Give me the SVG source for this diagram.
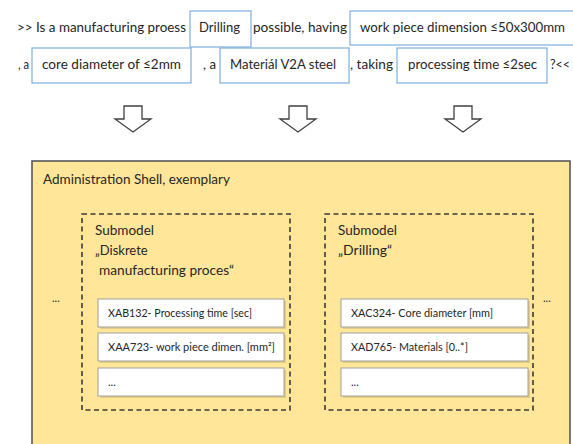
<svg xmlns="http://www.w3.org/2000/svg" width="573" height="444" viewBox="0 0 573 444">
<style>
text{font-family:Lato,"Liberation Sans","DejaVu Sans",sans-serif;fill:#262626}
.q{font-size:13px}
.qb{fill:#fff;stroke:#7eaedc;stroke-width:1.2}
.shell{fill:#ffe699;stroke:#595959;stroke-width:1.6}
.sub{fill:none;stroke:#3a3a3a;stroke-width:1.6;stroke-dasharray:5 3.5}
.item{fill:#fff;stroke:#a0a0a0;stroke-width:1}
.shadow{fill:#c9b46e;opacity:0.5}
.it{font-size:11px}
.lbl{font-size:13px}
.arr{fill:#fff;stroke:#404040;stroke-width:1.3;stroke-linejoin:miter}
</style>
<rect width="573" height="444" fill="#fff"/>

<g id="question">
  <text class="q" x="17" y="32" textLength="169" lengthAdjust="spacingAndGlyphs">&gt;&gt; Is a manufacturing proess</text>
  <g id="q-drilling"><rect class="qb" x="190" y="11" width="61" height="36"/><text class="q" x="199" y="32" textLength="41" lengthAdjust="spacingAndGlyphs">Drilling</text></g>
  <text class="q" x="253" y="32" textLength="94" lengthAdjust="spacingAndGlyphs">possible, having</text>
  <g id="q-dimension"><rect class="qb" x="350" y="11" width="226" height="34"/><text class="q" x="360" y="32" textLength="205" lengthAdjust="spacingAndGlyphs">work piece dimension ≤50x300mm</text></g>
  <text class="q" x="18" y="69" textLength="11" lengthAdjust="spacingAndGlyphs">, a</text>
  <g id="q-core"><rect class="qb" x="32" y="48" width="159" height="35"/><text class="q" x="42" y="69" textLength="139" lengthAdjust="spacingAndGlyphs">core diameter of ≤2mm</text></g>
  <text class="q" x="203" y="69" textLength="13" lengthAdjust="spacingAndGlyphs">, a</text>
  <g id="q-material"><rect class="qb" x="220" y="48" width="129" height="35"/><text class="q" x="230" y="69" textLength="106" lengthAdjust="spacingAndGlyphs">Materiál V2A steel</text></g>
  <text class="q" x="350" y="69" textLength="43" lengthAdjust="spacingAndGlyphs">, taking</text>
  <g id="q-time"><rect class="qb" x="397" y="48" width="150" height="35"/><text class="q" x="408" y="69" textLength="129" lengthAdjust="spacingAndGlyphs">processing time ≤2sec</text></g>
  <text class="q" x="550" y="69" textLength="20" lengthAdjust="spacingAndGlyphs">?&lt;&lt;</text>
</g>

<g id="connectors">
  <polygon class="arr" points="124,106 142,106 142,119 151,119 133,132 115,119 124,119"/>
  <polygon class="arr" points="289,106 307,106 307,119 316,119 298,132 280,119 289,119"/>
  <polygon class="arr" points="454,106 472,106 472,119 481,119 463,132 445,119 454,119"/>
</g>

<g id="shell">
  <rect class="shell" x="32" y="161" width="538" height="300"/>
  <text class="lbl" x="43" y="184" textLength="187" lengthAdjust="spacingAndGlyphs">Administration Shell, exemplary</text>
  <text class="it" x="52" y="302">...</text>
  <text class="it" x="543" y="302">...</text>
</g>

<g id="submodel-process">
  <rect class="sub" x="82" y="214" width="208" height="196"/>
  <text class="lbl" x="95" y="235" textLength="59" lengthAdjust="spacingAndGlyphs">Submodel</text>
  <text class="lbl" x="95" y="255">„Diskrete</text>
  <text class="lbl" x="99" y="275" textLength="135" lengthAdjust="spacingAndGlyphs">manufacturing proces“</text>
  <g id="item-xab132"><rect class="shadow" x="100" y="301" width="186" height="28"/><rect class="item" x="98" y="299" width="186" height="28"/><text class="it" x="108" y="317" textLength="144" lengthAdjust="spacingAndGlyphs">XAB132- Processing time [sec]</text></g>
  <g id="item-xaa723"><rect class="shadow" x="100" y="335" width="186" height="28"/><rect class="item" x="98" y="333" width="186" height="28"/><text class="it" x="108" y="351" textLength="167" lengthAdjust="spacingAndGlyphs">XAA723- work piece dimen. [mm²]</text></g>
  <g id="item-left-more"><rect class="shadow" x="100" y="370" width="186" height="28"/><rect class="item" x="98" y="368" width="186" height="28"/><text class="it" x="108" y="386" font-size="9">...</text></g>
</g>

<g id="submodel-drilling">
  <rect class="sub" x="325" y="214" width="208" height="196"/>
  <text class="lbl" x="338" y="235" textLength="59" lengthAdjust="spacingAndGlyphs">Submodel</text>
  <text class="lbl" x="338" y="255" textLength="54" lengthAdjust="spacingAndGlyphs">„Drilling“</text>
  <g id="item-xac324"><rect class="shadow" x="343" y="301" width="187" height="28"/><rect class="item" x="341" y="299" width="187" height="28"/><text class="it" x="351" y="317" textLength="142" lengthAdjust="spacingAndGlyphs">XAC324- Core diameter [mm]</text></g>
  <g id="item-xad765"><rect class="shadow" x="343" y="335" width="187" height="28"/><rect class="item" x="341" y="333" width="187" height="28"/><text class="it" x="351" y="351" textLength="117" lengthAdjust="spacingAndGlyphs">XAD765- Materials [0..*]</text></g>
  <g id="item-right-more"><rect class="shadow" x="343" y="370" width="187" height="28"/><rect class="item" x="341" y="368" width="187" height="28"/><text class="it" x="351" y="386" font-size="9">...</text></g>
</g>
</svg>
